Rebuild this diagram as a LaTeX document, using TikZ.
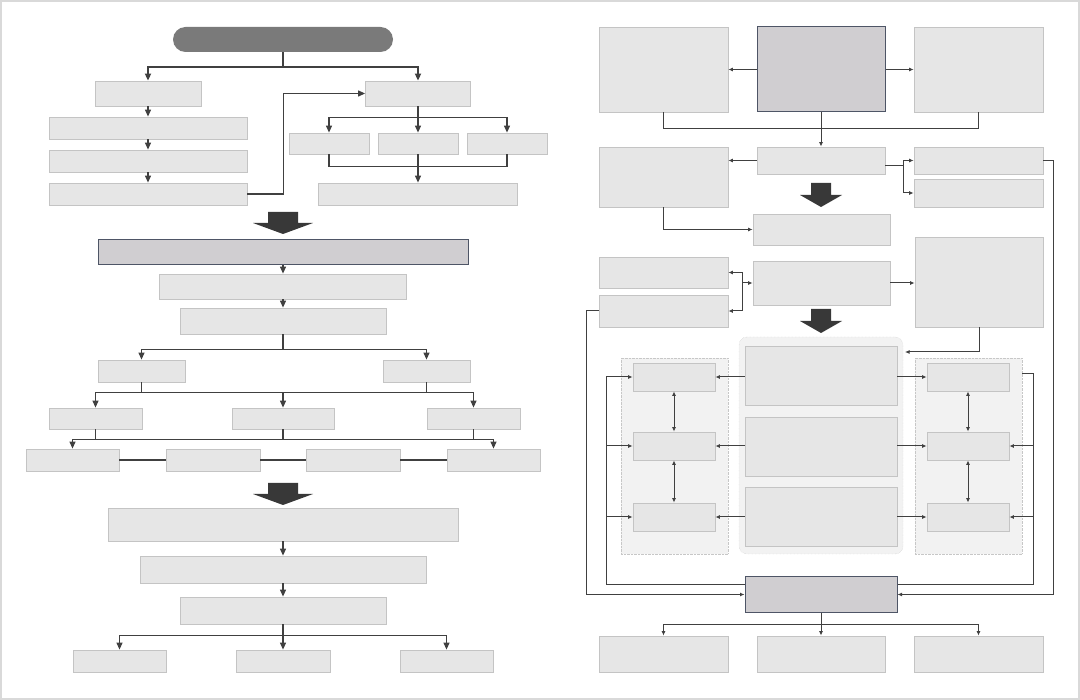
\documentclass[tikz,border=0pt]{standalone}
\usepackage{tikz}
\usetikzlibrary{arrows.meta,positioning,calc}
\definecolor{boxfill}{HTML}{E6E6E6}
\definecolor{boxline}{HTML}{C4C4C4}
\definecolor{darkfill}{HTML}{D0CED1}
\definecolor{darkline}{HTML}{4E5566}
\definecolor{wire}{HTML}{404040}
\definecolor{grpfill}{HTML}{F2F2F2}

\begin{document}
\begin{tikzpicture}[x=1pt, y=-1pt,
    box/.style={rectangle, draw=boxline, fill=boxfill, line width=0.8pt, inner sep=0pt},
    sz/.style 2 args={minimum width=#1pt, minimum height=#2pt},
    darkbox/.style={box, draw=darkline, fill=darkfill, line width=1pt},
    pill/.style={rectangle, rounded corners=12.5pt, fill=black!52, inner sep=0pt},
    grp/.style={rectangle, draw=black!22, densely dotted, fill=grpfill, inner sep=0pt},
    conn/.style={draw=wire, line width=1.2pt},
    arr/.style={conn, -{Triangle[length=7pt,width=6pt]}},
    arrw/.style={arr, line width=1.8pt},
    sconn/.style={draw=wire, line width=1pt},
    sarr/.style={sconn, -{Latex[length=4.5pt,width=4pt]}},
    sdbl/.style={sconn, {Latex[length=4.5pt,width=4pt]}-{Latex[length=4.5pt,width=4pt]}},
    bigarr/.style={fill=black!78}
]
    \useasboundingbox (0,0) rectangle (1080,700);
    \draw[black!15, line width=2pt] (1,1) rectangle (1079,699);

    % Left panel, first stage
    \node[pill, sz={220}{25}] (top) at (283,39.5) {};
    \node[box, sz={106}{25}] (a1) at (148,93.5) {};
    \node[box, sz={198}{22}] (a2) at (148,128) {};
    \node[box, sz={198}{22}] (a3) at (148,161) {};
    \node[box, sz={198}{22}] (a4) at (148,194) {};
    \node[box, sz={105}{25}] (b1) at (418,93.5) {};
    \node[box, sz={80}{21}] (b2a) at (329,143.5) {};
    \node[box, sz={80}{21}] (b2b) at (418,143.5) {};
    \node[box, sz={80}{21}] (b2c) at (507,143.5) {};
    \node[box, sz={199}{22}] (b3) at (418,194) {};

    % Left panel, second stage
    \node[darkbox, sz={370}{25}] (c0) at (283,252.5) {};
    \node[box, sz={247}{25}] (c1) at (283,286.5) {};
    \node[box, sz={206}{26}] (c2) at (283,321) {};
    \node[box, sz={87}{22}] (c3a) at (141.5,371) {};
    \node[box, sz={87}{22}] (c3b) at (426.5,371) {};
    \node[box, sz={93}{21}] (c4a) at (95.5,418.5) {};
    \node[box, sz={102}{21}] (c4b) at (283,418.5) {};
    \node[box, sz={93}{21}] (c4c) at (473.5,418.5) {};
    \node[box, sz={93}{22}] (c5a) at (72.5,460) {};
    \node[box, sz={94}{22}] (c5b) at (213,460) {};
    \node[box, sz={94}{22}] (c5c) at (353,460) {};
    \node[box, sz={93}{22}] (c5d) at (493.5,460) {};

    % Left panel, third stage
    \node[box, sz={350}{33}] (d1) at (283,524.5) {};
    \node[box, sz={286}{27}] (d2) at (283,569.5) {};
    \node[box, sz={206}{27}] (d3) at (283,610.5) {};
    \node[box, sz={93}{22}] (d4a) at (119.5,661) {};
    \node[box, sz={94}{22}] (d4b) at (283,661) {};
    \node[box, sz={93}{22}] (d4c) at (446.5,661) {};

    % Right panel, upper part
    \node[box, sz={129}{85}] (r1a) at (663.5,69.5) {};
    \node[darkbox, sz={128}{85}] (r1b) at (821,69.5) {};
    \node[box, sz={129}{85}] (r1c) at (978.5,69.5) {};
    \node[box, sz={129}{60}] (r2a) at (663.5,177) {};
    \node[box, sz={128}{27}] (r2b) at (821,160.5) {};
    \node[box, sz={129}{27}] (r2c) at (978.5,160.5) {};
    \node[box, sz={129}{28}] (r2d) at (978.5,193) {};
    \node[box, sz={137}{31}] (r3) at (821.5,229.5) {};
    \node[box, sz={129}{31}] (r4a) at (663.5,272.5) {};
    \node[box, sz={129}{32}] (r4b) at (663.5,311) {};
    \node[box, sz={137}{44}] (r4c) at (821.5,283) {};
    \node[box, sz={128}{90}] (r4d) at (979,282) {};

    % Right panel, grouped part
    \node[grp, sz={107}{196}] (gl) at (674.5,456) {};
    \node[grp, sz={164}{217}, rounded corners=8pt] (gm) at (821,445.5) {};
    \node[grp, sz={107}{196}] (gr) at (968.5,456) {};
    \node[box, sz={152}{59}] (m1) at (821,375.5) {};
    \node[box, sz={152}{59}] (m2) at (821,446.5) {};
    \node[box, sz={152}{59}] (m3) at (821,517) {};
    \node[box, sz={82}{28}] (l1) at (674,377) {};
    \node[box, sz={82}{28}] (l2) at (674,446) {};
    \node[box, sz={82}{28}] (l3) at (674,517) {};
    \node[box, sz={82}{28}] (rt1) at (968,377) {};
    \node[box, sz={82}{28}] (rt2) at (968,446) {};
    \node[box, sz={82}{28}] (rt3) at (968,517) {};
    \node[darkbox, sz={152}{35}] (bot) at (821,594.5) {};
    \node[box, sz={129}{36}] (ea) at (663.5,654) {};
    \node[box, sz={128}{36}] (eb) at (821,654) {};
    \node[box, sz={129}{36}] (ec) at (978.5,654) {};

    % Block arrows between stages
    \foreach \ax/\ay/\sw/\hw/\sh in {283/212/15/30/11, 283/483/15/30/11, 821/183/10/21/12, 821/309/10/21/12}
        \fill[bigarr] (\ax,\ay) ++(-\sw,0) -- ++(2*\sw,0) -- ++(0,\sh) -- ++(\hw-\sw,0)
            -- ++(-\hw,\sh) -- ++(-\hw,-\sh) -- ++(\hw-\sw,0) -- cycle;

    % Left panel connectors
    \draw[conn, line width=1.8pt] (top.south) -- ++(0,15) coordinate (j0);
    \draw[arrw] (j0) -| (a1.north);
    \draw[arrw] (j0) -| (b1.north);
    \draw[arr] (a1) -- (a2);
    \draw[arr] (a2) -- (a3);
    \draw[arr] (a3) -- (a4);
    \draw[arr] (a4.east) -- ++(36,0) |- (b1.west);
    \draw[conn] (b1.south) -- ++(0,11) coordinate (j1);
    \draw[arr] (j1) -| (b2a.north);
    \draw[arr] (j1) -| (b2c.north);
    \draw[arr] (b1) -- (b2b);
    \draw[conn] (b2a.south) -- ++(0,12) -| (b2c.south);
    \draw[arr] (b2b) -- (b3);

    \draw[arr] (c0) -- (c1);
    \draw[arr] (c1) -- (c2);
    \draw[conn] (c2.south) -- ++(0,15) coordinate (j2);
    \draw[arr] (j2) -| (c3a.north);
    \draw[arr] (j2) -| (c3b.north);
    \draw[conn] (c3a.south) -- ++(0,10) coordinate (j3);
    \draw[conn] (c3b.south) -- (c3b.south |- j3);
    \draw[arr] (j3) -| (c4a.north);
    \draw[arr] (j3) -| (c4c.north);
    \draw[arr] (c4b.north |- j3) -- (c4b.north);
    \draw[conn] (c4a.south) -- ++(0,10) coordinate (j4);
    \draw[conn] (c4b.south) -- (c4b.south |- j4);
    \draw[conn] (c4c.south) -- (c4c.south |- j4);
    \draw[arr] (j4) -| (c5a.north);
    \draw[arr] (j4) -| (c5d.north);
    \draw[conn] (c5a) -- (c5b);
    \draw[conn] (c5b) -- (c5c);
    \draw[conn] (c5c) -- (c5d);

    \draw[arr] (d1) -- (d2);
    \draw[arr] (d2) -- (d3);
    \draw[conn] (d3.south) -- ++(0,11) coordinate (j5);
    \draw[arr] (j5) -| (d4a.north);
    \draw[arr] (j5) -| (d4c.north);
    \draw[arr] (d3) -- (d4b);

    % Right panel connectors
    \draw[sarr] (r1b.west) -- (r1a.east);
    \draw[sarr] (r1b.east) -- (r1c.west);
    \draw[sconn] (r1a.south) -- ++(0,16) -| (r1c.south);
    \draw[sarr] (r1b.south) -- (r2b.north);
    \draw[sarr] (r2b.west) -- (r2b.west -| r2a.east);
    \coordinate (jr2) at (903,166);
    \draw[sconn] (r2b.east |- jr2) -- (jr2);
    \draw[sarr] (jr2) |- (r2c.west);
    \draw[sarr] (jr2) |- (r2d.west);
    \draw[sarr] (r2a.south) |- (r3.west);
    \coordinate (jr4) at (742,283);
    \draw[sarr] (jr4) -- (r4c.west);
    \draw[sarr] (jr4) |- (r4a.east);
    \draw[sarr] (jr4) |- (r4b.east);
    \draw[sarr] (r4c.east) -- (r4c.east -| r4d.west);
    \coordinate (inm) at (905,352);
    \draw[sarr] (r4d.south) |- (inm);

    \foreach \i in {1,2,3} {
        \draw[sarr] (m\i.west |- l\i) -- (l\i.east);
        \draw[sarr] (m\i.east |- rt\i) -- (rt\i.west);
    }
    \draw[sdbl] (l1) -- (l2);
    \draw[sdbl] (l2) -- (l3);
    \draw[sdbl] (rt1) -- (rt2);
    \draw[sdbl] (rt2) -- (rt3);

    \coordinate (lpa) at (606,585);
    \draw[sarr] (bot.west |- lpa) -- (lpa) |- (l1.west);
    \draw[sarr] (lpa |- l2) -- (l2.west);
    \draw[sarr] (lpa |- l3) -- (l3.west);
    \coordinate (rpa) at (1033,585);
    \coordinate (rpt) at (1022,374);
    \draw[sconn] (bot.east |- rpa) -- (rpa) |- (rpt);
    \draw[sarr] (rpa |- rt2) -- (rt2.east);
    \draw[sarr] (rpa |- rt3) -- (rt3.east);

    \draw[sarr] (r4b.west) -- ++(-12,0) |- (bot.west);
    \draw[sarr] (r2c.east) -- ++(10,0) |- (bot.east);
    \draw[sconn] (bot.south) -- ++(0,12) coordinate (jb);
    \draw[sarr] (jb) -| (ea.north);
    \draw[sarr] (jb) -| (ec.north);
    \draw[sarr] (bot) -- (eb);
\end{tikzpicture}
\end{document}
